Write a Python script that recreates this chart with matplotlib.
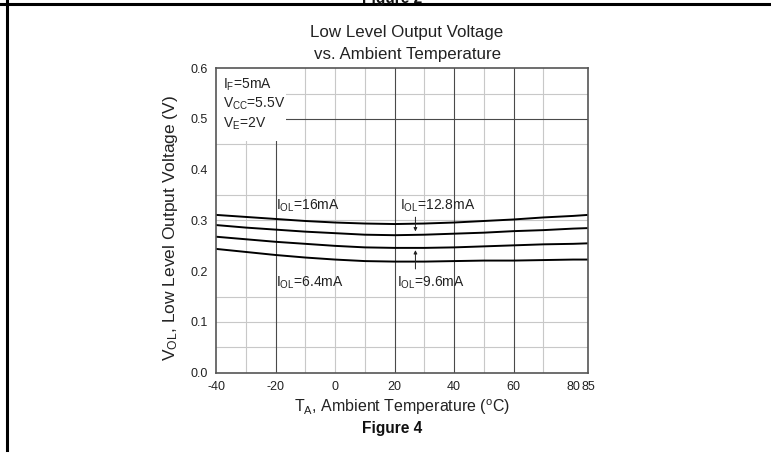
import matplotlib
matplotlib.use("Agg")
import matplotlib.pyplot as plt
from matplotlib.lines import Line2D
from matplotlib.patches import Rectangle

plt.rcParams["font.family"] = ["Liberation Sans", "DejaVu Sans"]
plt.rcParams["mathtext.fontset"] = "custom"
plt.rcParams["mathtext.rm"] = "Liberation Sans"

# temperature (C) and V_OL (V)
temps = [-40, -30, -20, -10, 0, 10, 20, 30, 40, 50, 60, 70, 80, 85]
vol_16ma = [0.311, 0.307, 0.303, 0.299, 0.296, 0.294, 0.293, 0.294, 0.296, 0.299, 0.302, 0.306, 0.309, 0.311]
vol_12p8ma = [0.291, 0.286, 0.282, 0.278, 0.275, 0.272, 0.271, 0.272, 0.274, 0.276, 0.279, 0.281, 0.284, 0.285]
vol_9p6ma = [0.268, 0.263, 0.258, 0.254, 0.250, 0.247, 0.246, 0.246, 0.247, 0.249, 0.251, 0.253, 0.254, 0.255]
vol_6p4ma = [0.244, 0.238, 0.232, 0.227, 0.223, 0.220, 0.219, 0.219, 0.220, 0.221, 0.221, 0.222, 0.223, 0.223]

x_ticks = [-40, -20, 0, 20, 40, 60, 80, 85]
y_ticks = [0.0, 0.1, 0.2, 0.3, 0.4, 0.5, 0.6]

light_grid_x = [-30, -10, 0, 10, 30, 50, 70]
dark_grid_x = [-20, 20, 40, 60]
light_grid_y = [0.05, 0.1, 0.15, 0.3, 0.35, 0.45, 0.55]
dark_grid_y = [0.5]

fig = plt.figure(figsize=(7.71, 4.54), dpi=100)
ax = fig.add_axes([0.2802, 0.179, 0.4825, 0.6707])

for x in light_grid_x:
    ax.axvline(x, color="#c8c8c8", lw=0.8, zorder=1)
for y in light_grid_y:
    ax.axhline(y, color="#c8c8c8", lw=0.8, zorder=1)
for x in dark_grid_x:
    ax.axvline(x, color="#4a4a4a", lw=0.8, zorder=1)
for y in dark_grid_y:
    ax.axhline(y, color="#4a4a4a", lw=0.8, zorder=1)

# white patch behind the condition text
ax.add_patch(Rectangle((-40, 0.457), 23.6, 0.2, facecolor="white",
                       edgecolor="none", zorder=2))

for series in [vol_16ma, vol_12p8ma, vol_9p6ma, vol_6p4ma]:
    ax.plot(temps, series, color="black", lw=1.4, zorder=3)

ax.set_xlim(-40, 85)
ax.set_ylim(0.0, 0.6)
ax.set_xticks(x_ticks)
ax.set_xticklabels([str(t) for t in x_ticks])
ax.set_yticks(y_ticks)
ax.set_yticklabels([f"{v:.1f}" for v in y_ticks])
ax.tick_params(length=0, labelsize=9, pad=6, colors="#222222")
for s in ax.spines.values():
    s.set_color("#555555")
    s.set_linewidth(1.2)
    s.set_zorder(4)

ax.set_xlabel(r"T$\mathregular{_A}$, Ambient Temperature ($\mathregular{^o}$C)",
              fontsize=11.5, labelpad=3, color="#222222")
ax.set_ylabel(r"V$\mathregular{_{OL}}$, Low Level Output Voltage (V)",
              fontsize=12.5, color="#222222")
ax.yaxis.set_label_coords(-0.098, 0.475)

tkw = dict(fontsize=10, color="#222222", zorder=5, va="center", ha="left")
ax.text(-37.5, 0.568, r"I$\mathregular{_F}$=5mA", **tkw)
ax.text(-37.5, 0.529, r"V$\mathregular{_{CC}}$=5.5V", **tkw)
ax.text(-37.5, 0.490, r"V$\mathregular{_E}$=2V", **tkw)

ax.text(-19.8, 0.328, r"I$\mathregular{_{OL}}$=16mA", **tkw)
ax.text(21.9, 0.328, r"I$\mathregular{_{OL}}$=12.8mA", **tkw)
ax.text(-19.8, 0.177, r"I$\mathregular{_{OL}}$=6.4mA", **tkw)
ax.text(20.8, 0.177, r"I$\mathregular{_{OL}}$=9.6mA", **tkw)

akw = dict(arrowstyle="-|>", color="#222222", lw=0.7, mutation_scale=5)
ax.annotate("", xy=(27, 0.273), xytext=(27, 0.312), arrowprops=akw, zorder=5)
ax.annotate("", xy=(27, 0.247), xytext=(27, 0.199), arrowprops=akw, zorder=5)

fig.text(0.528, 1 - 32 / 454, "Low Level Output Voltage", fontsize=12.2,
         ha="center", va="center", color="#222222")
fig.text(0.528, 1 - 54 / 454, "vs. Ambient Temperature", fontsize=12.2,
         ha="center", va="center", color="#222222")
fig.text(0.508, 1 - 428 / 454, "Figure 4", fontsize=11.2, fontweight="bold",
         ha="center", va="center", color="#111111")
fig.text(0.508, 1 - 3 / 454, "Figure 2", fontsize=11.2, fontweight="bold",
         ha="center", va="baseline", color="#111111")

# page frame lines from the scanned datasheet
fig.add_artist(Line2D([0, 1], [1 - 4 / 454, 1 - 4 / 454], color="black", lw=2.2))
fig.add_artist(Line2D([7 / 771, 7 / 771], [1 - 450 / 454, 1], color="black", lw=2.2))

fig.savefig("out.png", dpi=100)
